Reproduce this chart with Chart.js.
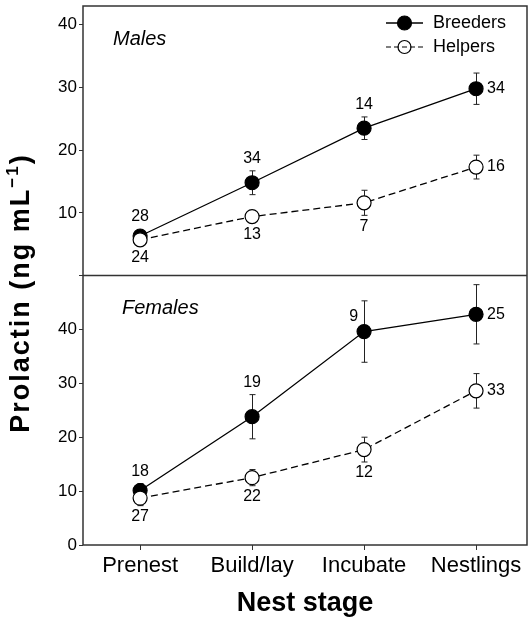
<!DOCTYPE html>
<html>
<head>
<meta charset="utf-8">
<script src="https://cdn.jsdelivr.net/npm/chart.js@4.4.0/dist/chart.umd.min.js"></script>
<style>
  html, body { margin: 0; padding: 0; background: #fff; }
</style>
</head>
<body>
<canvas id="prlChart" width="528" height="630"></canvas>
<script>
const stages = ['Prenest', 'Build/lay', 'Incubate', 'Nestlings'];

// mean prolactin (ng/mL) and SE for each nest stage
const maleBreeders = [6.3, 14.8, 23.5, 29.8];
const maleBreedersSE = [0.6, 1.9, 1.8, 2.5];
const maleHelpers = [5.7, 9.4, 11.6, 17.3];
const maleHelpersSE = [0.5, 0.6, 2.0, 1.9];
const femaleBreeders = [10.1, 23.8, 39.6, 42.8];
const femaleBreedersSE = [1.3, 4.1, 5.7, 5.5];
const femaleHelpers = [8.7, 12.5, 17.7, 28.6];
const femaleHelpersSE = [1.4, 1.5, 2.3, 3.2];

// sample sizes
const maleBreedersN = [28, 34, 14, 34];
const maleHelpersN = [24, 13, 7, 16];
const femaleBreedersN = [18, 19, 9, 25];
const femaleHelpersN = [27, 22, 12, 33];

// labelled y ticks per panel
const maleTicks = [10, 20, 30, 40];
const femaleTicks = [0, 10, 20, 30, 40];

const FONT = "'Liberation Sans', Arial, Helvetica, sans-serif";
Chart.defaults.font.family = FONT;
Chart.defaults.color = '#000';

function series(label, values, se, n, nPos, axis, filled, order) {
    return {
        label: label,
        // stage index on a linear x axis
        data: values.map((v, i) => ({ x: i, y: v })),
        se: se,
        n: n,
        nPos: nPos,
        yAxisID: axis,
        order: order,
        borderColor: '#000',
        borderWidth: 1.3,
        borderDash: filled ? [] : [7, 4],
        pointRadius: 7,
        pointHoverRadius: 7,
        pointBorderWidth: 1.2,
        pointBorderColor: '#000',
        pointBackgroundColor: filled ? '#000' : '#fff',
        tension: 0
    };
}

function drawMarker(ctx, x, y, r, filled) {
    ctx.beginPath();
    ctx.arc(x, y, r, 0, Math.PI * 2);
    if (filled) {
        ctx.fillStyle = '#000';
        ctx.fill();
    }
    ctx.lineWidth = 1.2;
    ctx.strokeStyle = '#000';
    ctx.stroke();
}

const decor = {
    id: 'decor',
    beforeDatasetsDraw(chart) {
        // error bars sit behind the markers
        const ctx = chart.ctx;
        ctx.save();
        ctx.strokeStyle = '#222';
        ctx.lineWidth = 1;
        chart.data.datasets.forEach((ds, i) => {
            const meta = chart.getDatasetMeta(i);
            const ys = chart.scales[ds.yAxisID];
            ds.se.forEach((se, j) => {
                const x = Math.round(meta.data[j].x) + 0.5;
                const t = ys.getPixelForValue(ds.data[j].y + se);
                const b = ys.getPixelForValue(ds.data[j].y - se);
                ctx.beginPath();
                ctx.moveTo(x, t); ctx.lineTo(x, b);
                ctx.moveTo(x - 3, t); ctx.lineTo(x + 3, t);
                ctx.moveTo(x - 3, b); ctx.lineTo(x + 3, b);
                ctx.stroke();
            });
        });
        ctx.restore();
    },
    afterDraw(chart) {
        const ctx = chart.ctx;
        const area = chart.chartArea;
        const yM = chart.scales.yM;
        ctx.save();

        // panel frame and divider
        ctx.strokeStyle = '#333';
        ctx.lineWidth = 1.5;
        ctx.strokeRect(area.left, area.top, area.right - area.left, area.bottom - area.top);
        ctx.beginPath();
        ctx.moveTo(area.left, yM.bottom);
        ctx.lineTo(area.right, yM.bottom);
        ctx.stroke();

        // panel names
        ctx.fillStyle = '#000';
        ctx.font = 'italic 20px ' + FONT;
        ctx.textAlign = 'left';
        ctx.textBaseline = 'middle';
        ctx.fillText('Males', 113, 39);
        ctx.fillText('Females', 122, 308);

        // sample sizes next to each point
        ctx.font = '16px ' + FONT;
        chart.data.datasets.forEach((ds, i) => {
            const meta = chart.getDatasetMeta(i);
            const ys = chart.scales[ds.yAxisID];
            ds.n.forEach((n, j) => {
                const p = meta.data[j];
                const v = ds.data[j].y;
                const t = Math.min(ys.getPixelForValue(v + ds.se[j]), p.y - 7);
                const b = Math.max(ys.getPixelForValue(v - ds.se[j]), p.y + 7);
                const pos = ds.nPos[j];
                if (pos === 'above') {
                    ctx.textAlign = 'center'; ctx.textBaseline = 'bottom';
                    ctx.fillText(n, p.x, t - 4);
                } else if (pos === 'below') {
                    ctx.textAlign = 'center'; ctx.textBaseline = 'top';
                    ctx.fillText(n, p.x, b + 3);
                } else if (pos === 'right') {
                    ctx.textAlign = 'left'; ctx.textBaseline = 'middle';
                    ctx.fillText(n, p.x + 11, p.y);
                } else {
                    ctx.textAlign = 'right'; ctx.textBaseline = 'middle';
                    ctx.fillText(n, p.x - 6, p.y - 15);
                }
            });
        });

        // legend
        const lx = 386, lw = 37;
        ctx.lineWidth = 1.3;
        ctx.strokeStyle = '#000';
        ctx.beginPath();
        ctx.moveTo(lx, 23); ctx.lineTo(lx + lw, 23);
        ctx.stroke();
        drawMarker(ctx, lx + lw / 2, 23, 7, true);
        ctx.setLineDash([5, 3]);
        ctx.beginPath();
        ctx.moveTo(lx, 47); ctx.lineTo(lx + lw, 47);
        ctx.stroke();
        ctx.setLineDash([]);
        drawMarker(ctx, lx + lw / 2, 47, 6.5, false);
        ctx.font = '18px ' + FONT;
        ctx.fillStyle = '#000';
        ctx.textAlign = 'left';
        ctx.textBaseline = 'middle';
        ctx.fillText('Breeders', 433, 23);
        ctx.fillText('Helpers', 433, 47);

        // shared y title across both panels
        ctx.translate(22, 293);
        ctx.rotate(-Math.PI / 2);
        ctx.letterSpacing = '2px';
        const main = 'Prolactin (ng mL';
        ctx.font = 'bold 27px ' + FONT;
        const wMain = ctx.measureText(main).width;
        const wClose = ctx.measureText(')').width;
        ctx.font = 'bold 17px ' + FONT;
        const wSup = ctx.measureText('\u22121').width;
        const x0 = -(wMain + wSup + wClose) / 2;
        ctx.textAlign = 'left';
        ctx.textBaseline = 'middle';
        ctx.font = 'bold 27px ' + FONT;
        ctx.fillText(main, x0, 0);
        ctx.font = 'bold 17px ' + FONT;
        ctx.fillText('\u22121', x0 + wMain, -9);
        ctx.font = 'bold 27px ' + FONT;
        ctx.fillText(')', x0 + wMain + wSup, 0);

        ctx.restore();
    }
};

function panelAxis(max, labelled) {
    return {
        type: 'linear',
        position: 'left',
        stack: 'panels',
        stackWeight: 1,
        min: 0,
        max: max,
        grid: { drawOnChartArea: false, drawTicks: true, tickLength: 4, color: '#333' },
        border: { display: false },
        ticks: {
            stepSize: 5,
            includeBounds: false,
            padding: 2,
            font: { size: 17 },
            callback: v => labelled.includes(v) ? v : ''
        },
        afterFit(s) {
            s.width = 83;
            s.paddingTop = 0;
            s.paddingBottom = 0;
        }
    };
}

new Chart(document.getElementById('prlChart'), {
    type: 'line',
    data: {
        datasets: [
            series('Breeders', maleBreeders, maleBreedersSE, maleBreedersN,
                ['above', 'above', 'above', 'right'], 'yM', true, 2),
            series('Helpers', maleHelpers, maleHelpersSE, maleHelpersN,
                ['below', 'below', 'below', 'right'], 'yM', false, 1),
            series('Breeders', femaleBreeders, femaleBreedersSE, femaleBreedersN,
                ['above', 'above', 'left', 'right'], 'yF', true, 2),
            series('Helpers', femaleHelpers, femaleHelpersSE, femaleHelpersN,
                ['below', 'below', 'below', 'right'], 'yF', false, 1)
        ]
    },
    options: {
        responsive: false,
        animation: false,
        layout: { autoPadding: false, padding: { top: 6, right: 1, left: 0, bottom: 0 } },
        plugins: {
            legend: { display: false },
            tooltip: { enabled: false }
        },
        scales: {
            x: {
                type: 'linear',
                min: -0.51,
                max: 3.455,
                grid: { drawOnChartArea: false, drawTicks: true, tickLength: 5, color: '#333' },
                border: { display: false },
                ticks: {
                    stepSize: 1,
                    includeBounds: false,
                    font: { size: 22 },
                    padding: 3,
                    maxRotation: 0,
                    autoSkip: false,
                    callback: v => stages[v] ?? ''
                },
                title: {
                    display: true,
                    text: 'Nest stage',
                    font: { size: 27, weight: 'bold' },
                    padding: { top: 0, bottom: 10 }
                },
                afterFit(s) {
                    s.height = 85;
                    s.paddingLeft = 0;
                    s.paddingRight = 0;
                }
            },
            // female panel listed first so it stacks below the male panel
            yF: panelAxis(50, femaleTicks),
            yM: panelAxis(43, maleTicks)
        }
    },
    plugins: [decor]
});
</script>
</body>
</html>
